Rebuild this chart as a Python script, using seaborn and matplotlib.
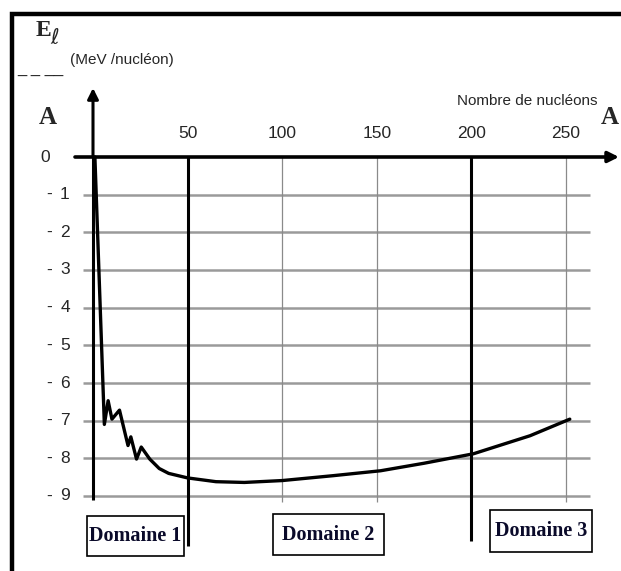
import matplotlib
matplotlib.use("Agg")
import matplotlib.pyplot as plt
from matplotlib.patches import Rectangle
import seaborn as sns
import pandas as pd

# binding energy per nucleon
nucleons = [1, 6, 8, 10, 14, 18.5, 20, 23, 25.5, 30, 35, 40, 50, 65, 80, 100,
            127, 152, 175, 201, 231, 252]
energy = [0, -7.1, -6.47, -6.96, -6.72, -7.66, -7.43, -8.02, -7.7, -8.02, -8.27,
          -8.4, -8.52, -8.62, -8.64, -8.59, -8.46, -8.33, -8.13, -7.88, -7.4, -6.96]

x_ticks = [50, 100, 150, 200, 250]
y_ticks = [1, 2, 3, 4, 5, 6, 7, 8, 9]
domains = ["Domaine 1", "Domaine 2", "Domaine 3"]
domain_limits = [50, 200]

df = pd.DataFrame({"A": nucleons, "E": energy})

sns.set_style("white")
plt.rcParams["font.family"] = ["Liberation Sans", "DejaVu Sans"]

fig = plt.figure(figsize=(6.21, 5.71), dpi=100)
ax = fig.add_axes([0, 0, 1, 1])
# pixel mapping: A=0 -> x 93, A=250 -> x 566 ; E=0 -> y 157, E=-9 -> y 496
sx, sy = 473 / 250, 339 / 9
ax.set_xlim(-93 / sx, (621 - 93) / sx)
ax.set_ylim(-(571 - 157) / sy, 157 / sy)
ax.axis("off")

def px(x):
    return (x - 93) / sx

def py(y):
    return (157 - y) / sy

# grid
for v in y_ticks:
    ax.hlines(-v, px(83), px(590), color="#9a9a9a", lw=1.8, zorder=1)
for t in [100, 150, 250]:
    ax.vlines(t, py(502), 0, color="#8a8a8a", lw=0.9, zorder=1)
for t in domain_limits:
    ax.vlines(t, py(546 if t == 50 else 541), 0, color="black", lw=2.2, zorder=3)

# axes with arrows
ax.vlines(0, py(500), 0, color="black", lw=2.2, zorder=3)
ax.annotate("", xy=(0, py(88)), xytext=(0, 0),
            arrowprops=dict(arrowstyle="-|>", color="black", lw=2.2,
                            mutation_scale=16, shrinkA=0, shrinkB=0), zorder=4)
ax.annotate("", xy=(px(619), 0), xytext=(px(75), 0),
            arrowprops=dict(arrowstyle="-|>", color="black", lw=2.6,
                            mutation_scale=16, shrinkA=0, shrinkB=0), zorder=4)

sns.lineplot(data=df, x="A", y="E", ax=ax, color="black", lw=2.4, sort=False,
             zorder=5, legend=False)

# tick labels
for t in x_ticks:
    ax.text(t, py(134), str(t), ha="center", va="center", fontsize=12.5)
ax.text(px(45), 0, "0", ha="center", va="center", fontsize=12.5)
for v in y_ticks:
    ax.text(px(49), -v, "-", ha="center", va="center", fontsize=12.5)
    ax.text(px(65), -v, str(v), ha="center", va="center", fontsize=12.5)

ax.text(px(527), py(101), "Nombre de nucléons", ha="center", va="center", fontsize=11)
ax.text(px(48), py(118), "A", ha="center", va="center", fontsize=18,
        family="Liberation Serif", weight="bold")
ax.text(px(610), py(118), "A", ha="center", va="center", fontsize=18,
        family="Liberation Serif", weight="bold")
ax.text(px(43), py(30), "E", ha="center", va="center", fontsize=17,
        family="Liberation Serif", weight="bold")
ax.text(px(55), py(39), "ℓ", ha="center", va="center", fontsize=15,
        family=["DejaVu Serif", "DejaVu Sans"])
ax.text(px(40), py(68), "_ _ __", ha="center", va="center", fontsize=12)
ax.text(px(70), py(60), "(MeV /nucléon)", ha="left", va="center", fontsize=11)

# domain boxes
boxes = [(87, 184, 516, 556), (273, 384, 514, 555), (490, 592, 510, 552)]
for name, (x0, x1, y0, y1) in zip(domains, boxes):
    ax.add_patch(Rectangle((px(x0), py(y1)), px(x1) - px(x0), py(y0) - py(y1),
                           fc="white", ec="black", lw=1.2, zorder=6))
    ax.text((px(x0) + px(x1)) / 2, (py(y0) + py(y1)) / 2, name, ha="center",
            va="center", fontsize=14.5, family="Liberation Serif", weight="bold",
            color="#0a0a2a", zorder=7)

# outer frame
fig.patches.append(Rectangle((12 / 621, -0.05), 1.1, (571 - 14) / 571 + 0.05,
                             transform=fig.transFigure, fill=False, ec="black",
                             lw=3.2))

fig.savefig("out.png", dpi=100)
